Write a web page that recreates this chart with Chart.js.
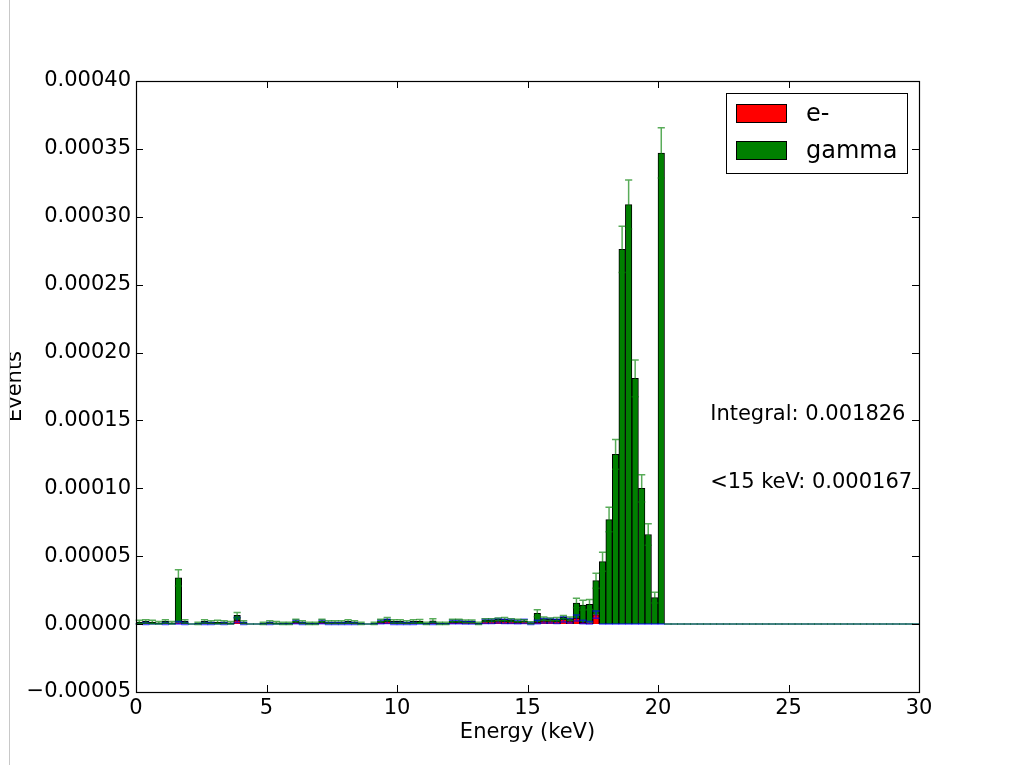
<!DOCTYPE html>
<html>
<head>
<meta charset="utf-8">
<script src="https://cdn.jsdelivr.net/npm/chart.js@4.4.0/dist/chart.umd.min.js"></script>
<style>
  html, body { margin: 0; padding: 0; background: #fff; }
  #wrap { width: 1014px; height: 765px; }
</style>
</head>
<body>
<div id="wrap"><canvas id="chart" width="1014" height="765"></canvas></div>
<script>
// Гистограмма: бины по 0.25 keV от 0 до 30, значения в единицах 1e-6
const BIN_WIDTH = 0.25;
const UNIT = 1e-6;

const electronVals = [
  0, 0.5, 0, 0, 0.5, 0, 1.0, 0.5, 0, 0, 0.5, 0.5, 0, 0.5, 0, 3.0, 0.5, 0, 0, 0,
  0.5, 0, 0, 0, 1.5, 0.5, 0, 0, 1.5, 0.5, 0.5, 0.5, 0.5, 0.5, 0, 0, 0, 1.5, 2.0, 0.5,
  0.5, 0.5, 0.5, 0, 0, 0.5, 0, 0, 1.5, 1.5, 1.0, 1.0, 0, 2.0, 2.0, 2.5, 2.0, 2.0, 1.5, 2.0,
  0.5, 1.5, 2.5, 2.5, 2.0, 3.5, 2.5, 4.5, 1.5, 1.0, 7.0, 0, 0, 0, 0, 0, 0, 0, 0, 0,
  0, 0, 0, 0, 0, 0, 0, 0, 0, 0, 0, 0, 0, 0, 0, 0, 0, 0, 0, 0,
  0, 0, 0, 0, 0, 0, 0, 0, 0, 0, 0, 0, 0, 0, 0, 0, 0, 0, 0, 0
];
const electronErr = [
  0, 0.7, 0, 0, 0.7, 0, 1.0, 0.7, 0, 0, 0.7, 0.7, 0, 0.7, 0, 1.8, 0.7, 0, 0, 0,
  0.7, 0, 0, 0, 1.3, 0.7, 0, 0, 1.3, 0.7, 0.7, 0.7, 0.7, 0.7, 0, 0, 0, 1.3, 1.5, 0.7,
  0.7, 0.7, 0.7, 0, 0, 0.7, 0, 0, 1.3, 1.3, 1.0, 1.0, 0, 1.5, 1.5, 1.6, 1.5, 1.5, 1.3, 1.5,
  0.7, 1.3, 1.6, 1.6, 1.5, 1.9, 1.6, 2.2, 1.3, 1.0, 2.7, 0, 0, 0, 0, 0, 0, 0, 0, 0,
  0, 0, 0, 0, 0, 0, 0, 0, 0, 0, 0, 0, 0, 0, 0, 0, 0, 0, 0, 0,
  0, 0, 0, 0, 0, 0, 0, 0, 0, 0, 0, 0, 0, 0, 0, 0, 0, 0, 0, 0
];
const gammaVals = [
  1.5, 1.5, 1.5, 1.0, 1.5, 1.0, 33.0, 1.5, 0, 0.5, 1.5, 1.0, 1.5, 1.0, 1.0, 3.5, 1.0, 0, 0, 0.5,
  1.0, 1.0, 0.5, 0.5, 1.0, 1.0, 0.5, 0.5, 1.0, 1.0, 1.0, 1.0, 1.5, 1.0, 0.5, 0, 0.5, 1.0, 1.5, 1.5,
  1.5, 1.0, 1.5, 2.0, 0.5, 2.0, 0.5, 0.5, 1.0, 1.0, 1.0, 1.0, 0.5, 1.0, 1.0, 1.0, 1.5, 1.0, 1.0, 0.5,
  0.5, 6.5, 1.5, 1.0, 1.5, 1.5, 1.5, 11.0, 12.5, 13.5, 25.0, 46, 77, 125, 276, 309, 181, 100, 66, 19.5,
  347, 0, 0, 0, 0, 0, 0, 0, 0, 0, 0, 0, 0, 0, 0, 0, 0, 0, 0, 0,
  0, 0, 0, 0, 0, 0, 0, 0, 0, 0, 0, 0, 0, 0, 0, 0, 0, 0, 0, 0
];
const gammaErr = [
  1.3, 1.3, 1.3, 1.0, 1.3, 1.0, 6.0, 1.3, 0, 0.8, 1.3, 1.0, 1.3, 1.0, 1.0, 2.0, 1.0, 0, 0, 0.8,
  1.0, 1.0, 0.8, 0.8, 1.0, 1.0, 0.8, 0.8, 1.0, 1.0, 1.0, 1.0, 1.3, 1.0, 0.8, 0, 0.8, 1.0, 1.3, 1.3,
  1.3, 1.0, 1.3, 1.4, 0.8, 1.4, 0.8, 0.8, 1.0, 1.0, 1.0, 1.0, 0.8, 1.0, 1.0, 1.0, 1.3, 1.0, 1.0, 0.8,
  0.8, 2.6, 1.3, 1.0, 1.3, 1.3, 1.3, 3.5, 3.6, 3.7, 5.5, 7.0, 9.0, 11.0, 17.0, 18.0, 13.5, 10.0, 8.0, 4.0,
  18.5, 0, 0, 0, 0, 0, 0, 0, 0, 0, 0, 0, 0, 0, 0, 0, 0, 0, 0, 0,
  0, 0, 0, 0, 0, 0, 0, 0, 0, 0, 0, 0, 0, 0, 0, 0, 0, 0, 0, 0
];

const xTicks = [0, 5, 10, 15, 20, 25, 30];
const notes = [
  { x: 22, y: 0.00015, text: 'Integral: 0.001826' },
  { x: 22, y: 0.00010, text: '<15 keV: 0.000167' },
];

const FONT = 'DejaVu Sans';

// Центры бинов
function binCenter(i) {
  return i * BIN_WIDTH + BIN_WIDTH / 2;
}

function toPoints(vals) {
  return vals.map((v, i) => ({ x: binCenter(i), y: v * UNIT }));
}

// Ошибки: синие для e-, зелёные для gamma (поверх стека)
const errorBarsPlugin = {
  id: 'errorBars',
  afterDatasetsDraw(chart) {
    const { ctx, scales: { x, y } } = chart;
    const half = 3.6;
    function bar(cx, v, e) {
      const yt = y.getPixelForValue(v + e);
      const yb = y.getPixelForValue(v - e);
      ctx.beginPath();
      ctx.moveTo(cx, yt); ctx.lineTo(cx, yb);
      ctx.moveTo(cx - half, yt); ctx.lineTo(cx + half, yt);
      ctx.moveTo(cx - half, yb); ctx.lineTo(cx + half, yb);
      ctx.stroke();
    }
    ctx.save();
    ctx.lineWidth = 1.5;
    ctx.strokeStyle = 'rgba(0, 0, 255, 0.65)';
    electronVals.forEach((v, i) => {
      bar(x.getPixelForValue(binCenter(i)), v * UNIT, electronErr[i] * UNIT);
    });
    ctx.strokeStyle = 'rgba(0, 128, 0, 0.65)';
    gammaVals.forEach((v, i) => {
      bar(x.getPixelForValue(binCenter(i)), (v + electronVals[i]) * UNIT, gammaErr[i] * UNIT);
    });
    ctx.restore();
  },
};

// Рамка, внутренние засечки, легенда, подписи
const framePlugin = {
  id: 'frame',
  afterDraw(chart) {
    const { ctx, chartArea: a, scales: { x, y } } = chart;
    const tl = 7;
    ctx.save();
    ctx.strokeStyle = '#000';
    ctx.lineWidth = 1.2;
    ctx.strokeRect(a.left + 0.5, a.top + 0.5, a.right - a.left, a.bottom - a.top);

    ctx.lineWidth = 1;
    ctx.beginPath();
    y.ticks.forEach((t) => {
      const py = Math.round(y.getPixelForValue(t.value)) + 0.5;
      ctx.moveTo(a.left, py); ctx.lineTo(a.left + tl, py);
      ctx.moveTo(a.right, py); ctx.lineTo(a.right - tl, py);
    });
    x.ticks.forEach((t) => {
      const px = Math.round(x.getPixelForValue(t.value)) + 0.5;
      ctx.moveTo(px, a.bottom); ctx.lineTo(px, a.bottom - tl);
      ctx.moveTo(px, a.top); ctx.lineTo(px, a.top + tl);
    });
    ctx.stroke();

    // текстовые пометки в координатах данных
    ctx.fillStyle = '#000';
    ctx.font = '21px "' + FONT + '"';
    ctx.textAlign = 'left';
    ctx.textBaseline = 'alphabetic';
    notes.forEach((n) => {
      ctx.fillText(n.text, x.getPixelForValue(n.x), y.getPixelForValue(n.y));
    });

    // легенда
    const lx = 726, ly = 93, lw = 181, lh = 80;
    ctx.fillStyle = '#fff';
    ctx.fillRect(lx, ly, lw, lh);
    ctx.strokeStyle = '#000';
    ctx.lineWidth = 1;
    ctx.strokeRect(lx + 0.5, ly + 0.5, lw, lh);
    ctx.font = '24px "' + FONT + '"';
    ctx.textBaseline = 'middle';
    chart.data.datasets.forEach((d, i) => {
      const sy = ly + 11 + i * 37;
      ctx.fillStyle = d.backgroundColor;
      ctx.fillRect(lx + 10, sy, 51, 18);
      ctx.strokeRect(lx + 10.5, sy + 0.5, 50, 18);
      ctx.fillStyle = '#000';
      ctx.fillText(d.label, lx + 80, sy + 11);
    });

    // обрезанный левый край картинки
    ctx.fillStyle = '#fff';
    ctx.fillRect(0, 0, 9, chart.height);
    ctx.strokeStyle = '#c8c8c8';
    ctx.beginPath();
    ctx.moveTo(9.5, 0); ctx.lineTo(9.5, chart.height);
    ctx.stroke();
    ctx.restore();
  },
};

Chart.defaults.font.family = FONT;
Chart.defaults.font.size = 21;
Chart.defaults.color = '#000';

const ctx = document.getElementById('chart').getContext('2d');
new Chart(ctx, {
  type: 'bar',
  data: {
    datasets: [
      {
        label: 'e-',
        data: toPoints(electronVals),
        backgroundColor: '#ff0000',
        borderColor: '#000',
        borderWidth: 1,
        barPercentage: 1,
        categoryPercentage: 1,
      },
      {
        label: 'gamma',
        data: toPoints(gammaVals),
        backgroundColor: '#008000',
        borderColor: '#000',
        borderWidth: 1,
        barPercentage: 1,
        categoryPercentage: 1,
      },
    ],
  },
  options: {
    responsive: false,
    animation: false,
    layout: { padding: { left: 0, right: 95, top: 81, bottom: 0 } },
    plugins: {
      legend: { display: false },
      tooltip: { enabled: false },
    },
    scales: {
      x: {
        type: 'linear',
        stacked: true,
        min: 0,
        max: 30,
        offset: false,
        grid: { display: false, offset: false, drawTicks: false },
        border: { display: false },
        afterBuildTicks: (scale) => {
          scale.ticks = xTicks.map((v) => ({ value: v }));
        },
        ticks: { padding: 4, autoSkip: false, maxRotation: 0 },
        title: { display: true, text: 'Energy (keV)', padding: { top: 0, bottom: 20 } },
        afterFit: (scale) => { scale.height = 73; },
      },
      y: {
        stacked: true,
        min: -0.00005,
        max: 0.0004,
        grid: { display: false, drawTicks: false },
        border: { display: false },
        ticks: {
          stepSize: 0.00005,
          padding: 5,
          callback: (v) => {
            if (Math.abs(v) < 1e-12) return '0.00000';
            return (v < 0 ? '\u2212' : '') + Math.abs(v).toFixed(5);
          },
        },
        title: { display: true, text: 'Events', padding: { top: 3, bottom: 0 } },
        afterFit: (scale) => { scale.width = 136; },
      },
    },
  },
  plugins: [errorBarsPlugin, framePlugin],
});
</script>
</body>
</html>
